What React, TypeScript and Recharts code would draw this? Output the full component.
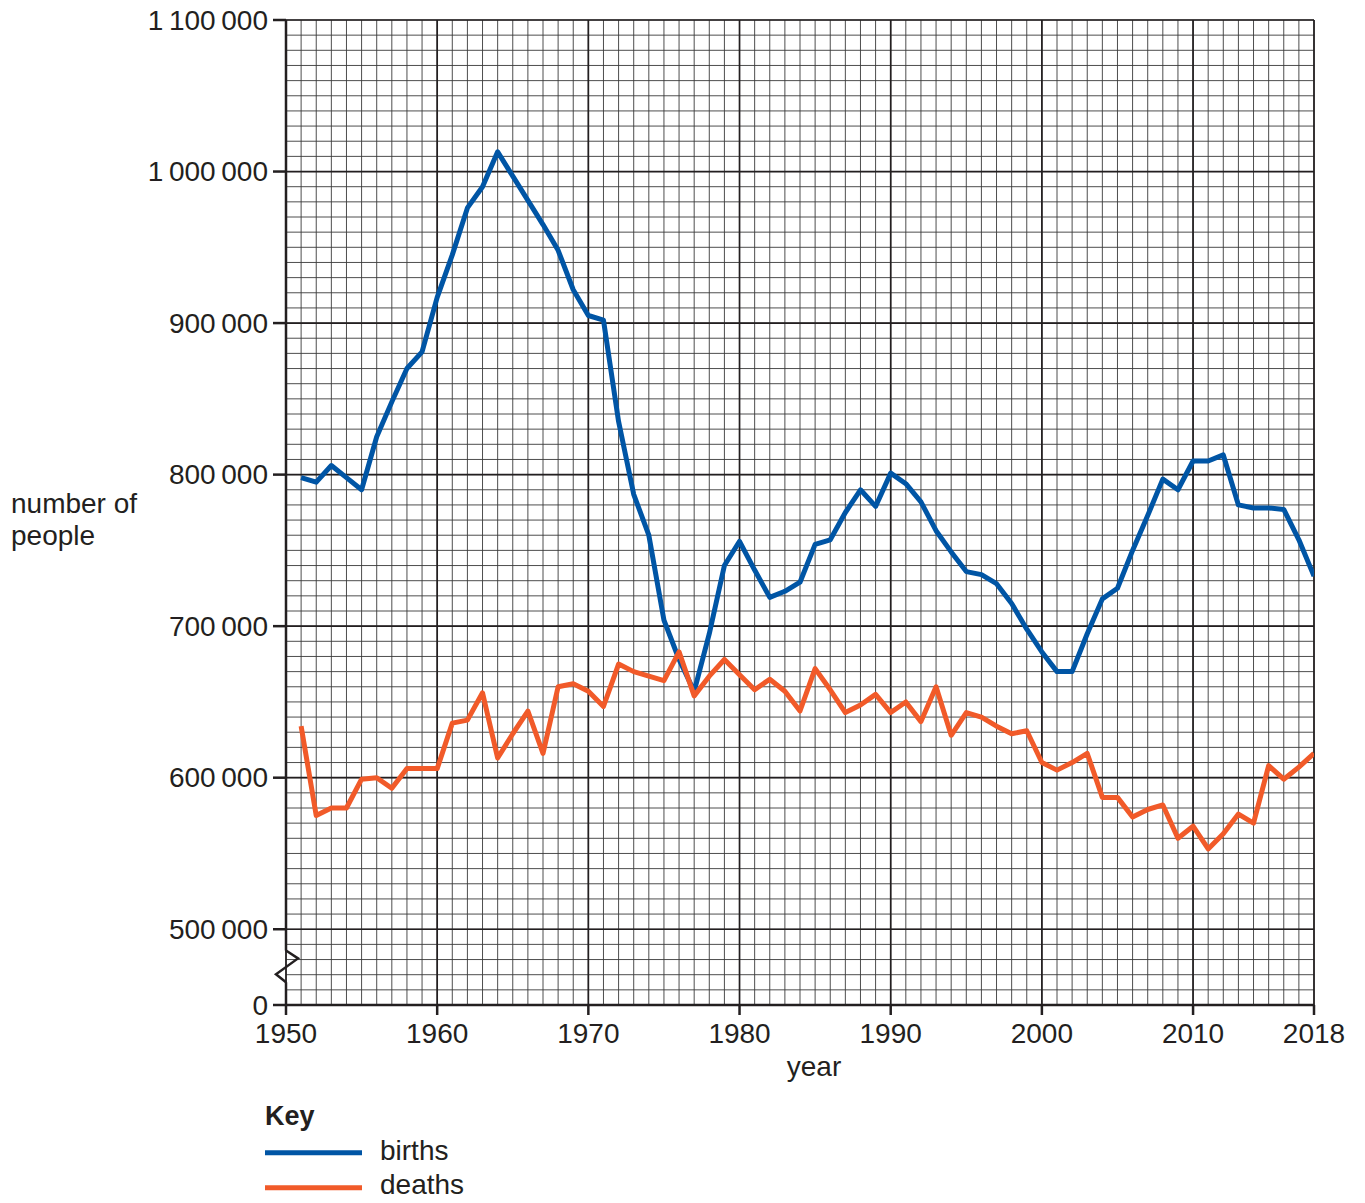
import React from 'react';
import {
  LineChart,
  Line,
  XAxis,
  YAxis,
  CartesianGrid,
  ReferenceLine,
  ReferenceArea,
} from 'recharts';

// ---------- data ----------
const years = [
  1951, 1952, 1953, 1954, 1955, 1956, 1957, 1958, 1959, 1960,
  1961, 1962, 1963, 1964, 1965, 1966, 1967, 1968, 1969, 1970,
  1971, 1972, 1973, 1974, 1975, 1976, 1977, 1978, 1979, 1980,
  1981, 1982, 1983, 1984, 1985, 1986, 1987, 1988, 1989, 1990,
  1991, 1992, 1993, 1994, 1995, 1996, 1997, 1998, 1999, 2000,
  2001, 2002, 2003, 2004, 2005, 2006, 2007, 2008, 2009, 2010,
  2011, 2012, 2013, 2014, 2015, 2016, 2017, 2018,
];

const births = [
  798000, 795000, 806000, 798000, 790000, 825000, 848000, 870000, 881000, 917000,
  945000, 976000, 990000, 1013000, 997000, 981000, 965000, 948000, 922000, 905000,
  902000, 835000, 787000, 760000, 704000, 678000, 657000, 695000, 740000, 756000,
  737000, 719000, 723000, 729000, 754000, 757000, 775000, 790000, 779000, 801000,
  794000, 782000, 763000, 749000, 736000, 734000, 728000, 715000, 698000, 683000,
  670000, 670000, 695000, 718000, 725000, 750000, 773000, 797000, 790000, 809000,
  809000, 813000, 780000, 778000, 778000, 777000, 757000, 733000,
];

const deaths = [
  634000, 575000, 580000, 580000, 599000, 600000, 593000, 606000, 606000, 606000,
  636000, 638000, 656000, 613000, 629000, 644000, 616000, 660000, 662000, 657000,
  647000, 675000, 670000, 667000, 664000, 683000, 654000, 667000, 678000, 668000,
  658000, 665000, 657000, 644000, 672000, 658000, 643000, 648000, 655000, 643000,
  650000, 637000, 660000, 628000, 643000, 640000, 634000, 629000, 631000, 610000,
  605000, 610000, 616000, 587000, 587000, 574000, 579000, 582000, 560000, 568000,
  553000, 563000, 576000, 570000, 608000, 599000, 607000, 616000,
];

const xTickLabels = [1950, 1960, 1970, 1980, 1990, 2000, 2010, 2018];
const yTickValues = [450000, 500000, 600000, 700000, 800000, 900000, 1000000, 1100000];

const seriesList = [
  { key: 'births', name: 'births', color: '#0055a5' },
  { key: 'deaths', name: 'deaths', color: '#f15a29' },
];

// ---------- layout / style ----------
const FONT = '"Liberation Sans", Arial, Helvetica, sans-serif';
const INK = '#231f20';
const X_DOMAIN: [number, number] = [1950, 2018];
const Y_DOMAIN: [number, number] = [450000, 1100000];
const Y_BREAK_LOW = 465000;
const Y_BREAK_HIGH = 486000;

const minorX: number[] = [];
for (let v = 1950; v <= 2018; v += 1) minorX.push(v);
const minorY: number[] = [];
for (let v = 450000; v <= 1100000; v += 10000) minorY.push(v);
const majorX = [1950, 1960, 1970, 1980, 1990, 2000, 2010];
const majorY = [500000, 600000, 700000, 800000, 900000, 1000000, 1100000];

const data = years.map((year, i) => ({ year, births: births[i], deaths: deaths[i] }));

const fmt = (v: number) =>
  v === Y_DOMAIN[0] ? '0' : String(v).replace(/\B(?=(\d{3})+(?!\d))/g, '\u2009');

const YTick = (props: any) => {
  const { x, y, payload } = props;
  return (
    <text x={x} y={y} dy="0.35em" textAnchor="end" fontSize={28} fill={INK} fontFamily={FONT}>
      {fmt(payload.value)}
    </text>
  );
};

const XTick = (props: any) => {
  const { x, y, payload } = props;
  return (
    <text x={x} y={y} dy="0.71em" textAnchor="middle" fontSize={28} fill={INK} fontFamily={FONT}>
      {payload.value}
    </text>
  );
};

const YTitle = (props: any) => {
  const vb = props.viewBox || { x: 0, y: 0, width: 0, height: 0 };
  const cy = vb.y + vb.height / 2;
  const tx = vb.x + vb.width - 275;
  return (
    <text x={tx} y={cy} fontSize={28} fill={INK} fontFamily={FONT}>
      <tspan x={tx} y={cy}>number of</tspan>
      <tspan x={tx} y={cy + 32}>people</tspan>
    </text>
  );
};

const XTitle = (props: any) => {
  const vb = props.viewBox || { x: 0, y: 0, width: 0, height: 0 };
  return (
    <text
      x={vb.x + vb.width / 2 + 14}
      y={vb.y + 71}
      textAnchor="middle"
      fontSize={28}
      fill={INK}
      fontFamily={FONT}
    >
      year
    </text>
  );
};

const BreakMark = (p: any) => {
  const { x, y, height } = p;
  return (
    <path
      d={`M${x},${y} L${x + 12},${y + height * 0.25} L${x - 10},${y + height * 0.75} L${x},${y + height}`}
      fill="none"
      stroke={INK}
      strokeWidth={2.5}
    />
  );
};

const Key = () => (
  <svg
    width={500}
    height={110}
    style={{ position: 'absolute', left: 240, top: 1093, overflow: 'visible' }}
  >
    <text x={17} y={32} fontSize={27} fontWeight="bold" fill={INK} fontFamily={FONT}>
      Key
    </text>
    {seriesList.map((s, i) => (
      <g key={s.key}>
        <line x1={17} x2={114} y1={59.7 + i * 35} y2={59.7 + i * 35} stroke={s.color} strokeWidth={5} />
        <text x={132} y={67 + i * 34} fontSize={28} fill={INK} fontFamily={FONT}>
          {s.name}
        </text>
      </g>
    ))}
  </svg>
);

export default function App() {
  return (
    <div
      style={{
        position: 'relative',
        width: 1350,
        height: 1203,
        marginTop: -8,
        fontFamily: FONT,
      }}
    >
      <LineChart
        width={1350}
        height={1198}
        data={data}
        margin={{ top: 20, right: 44, bottom: 153, left: 0 }}
      >
        <XAxis xAxisId="minor" type="number" dataKey="year" domain={X_DOMAIN} ticks={minorX} interval={0} hide allowDataOverflow />
        <XAxis xAxisId="major" type="number" dataKey="year" domain={X_DOMAIN} ticks={majorX} interval={0} hide allowDataOverflow />
        <YAxis yAxisId="minor" type="number" domain={Y_DOMAIN} ticks={minorY} interval={0} hide allowDataOverflow />
        <YAxis yAxisId="major" type="number" domain={Y_DOMAIN} ticks={majorY} interval={0} hide allowDataOverflow />
        <CartesianGrid xAxisId="minor" yAxisId="minor" stroke="#3a3a3a" strokeWidth={0.9} />
        <CartesianGrid xAxisId="major" yAxisId="major" stroke={INK} strokeWidth={1.7} />

        <XAxis
          type="number"
          dataKey="year"
          domain={X_DOMAIN}
          ticks={xTickLabels}
          interval={0}
          allowDataOverflow
          height={40}
          tickSize={10}
          tickMargin={8}
          tick={<XTick />}
          tickLine={{ stroke: INK, strokeWidth: 2.5 }}
          axisLine={{ stroke: INK, strokeWidth: 2.5 }}
          label={<XTitle />}
        />
        <YAxis
          type="number"
          domain={Y_DOMAIN}
          ticks={yTickValues}
          interval={0}
          allowDataOverflow
          width={278}
          tickSize={13}
          tickMargin={5}
          tick={<YTick />}
          tickLine={{ stroke: INK, strokeWidth: 2.5 }}
          axisLine={false}
          label={<YTitle />}
        />

        <ReferenceLine
          segment={[{ x: X_DOMAIN[0], y: Y_DOMAIN[1] }, { x: X_DOMAIN[0], y: Y_BREAK_HIGH }]}
          stroke={INK}
          strokeWidth={2.5}
          ifOverflow="visible"
        />
        <ReferenceLine
          segment={[{ x: X_DOMAIN[0], y: Y_BREAK_LOW }, { x: X_DOMAIN[0], y: Y_DOMAIN[0] }]}
          stroke={INK}
          strokeWidth={2.5}
          ifOverflow="visible"
        />
        <ReferenceArea
          x1={X_DOMAIN[0]}
          x2={X_DOMAIN[0] + 1}
          y1={Y_BREAK_LOW}
          y2={Y_BREAK_HIGH}
          ifOverflow="visible"
          shape={<BreakMark />}
        />

        {seriesList.map((s) => (
          <Line
            key={s.key}
            type="linear"
            dataKey={s.key}
            name={s.name}
            stroke={s.color}
            strokeWidth={5}
            strokeLinejoin="round"
            strokeLinecap="butt"
            dot={false}
            activeDot={false}
            isAnimationActive={false}
          />
        ))}
      </LineChart>
      <Key />
    </div>
  );
}
